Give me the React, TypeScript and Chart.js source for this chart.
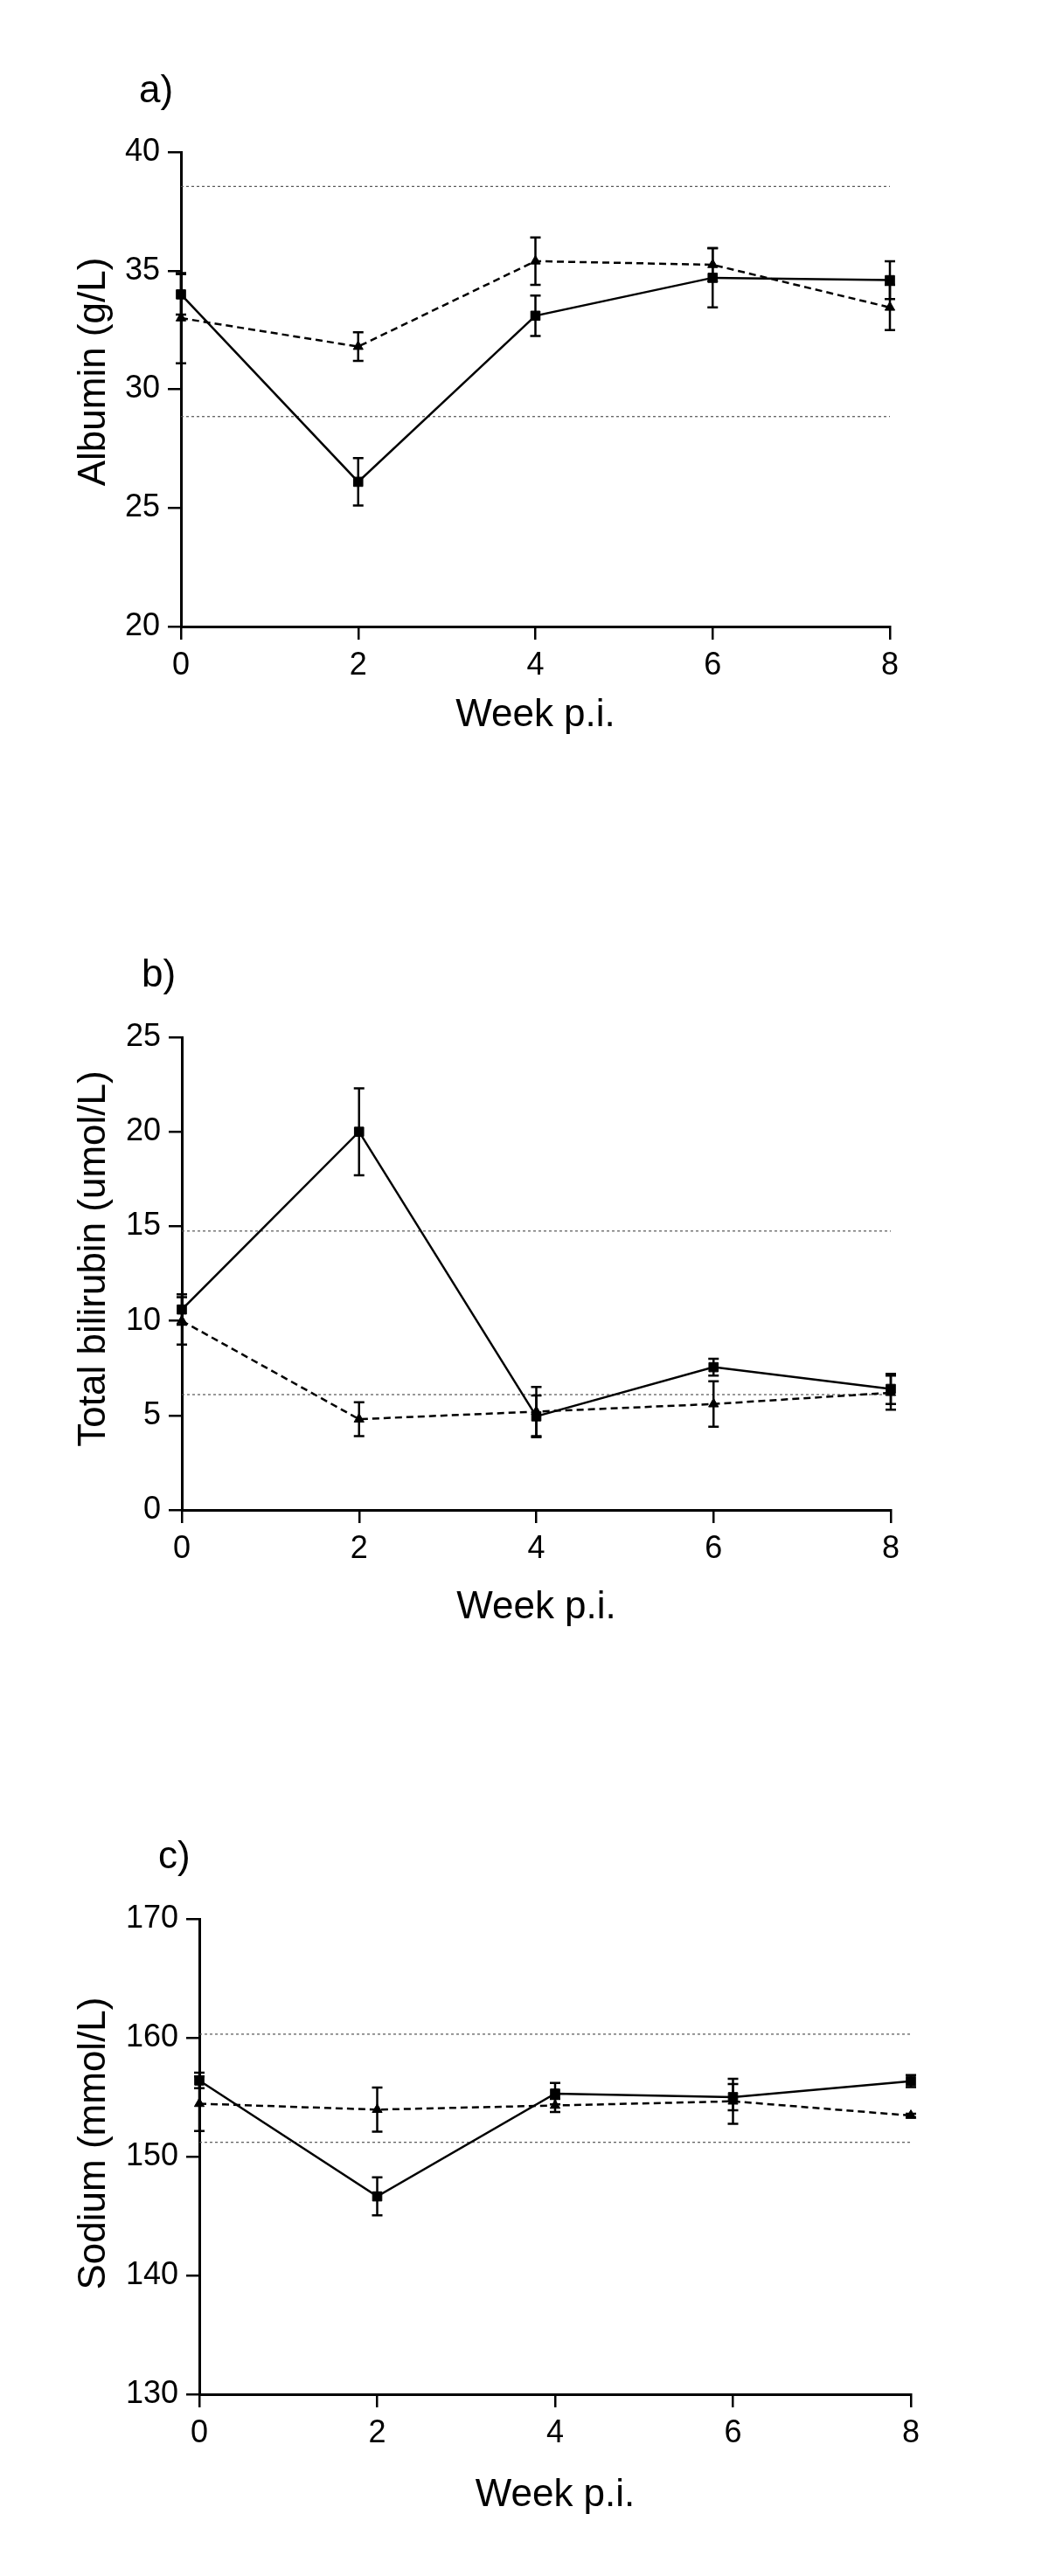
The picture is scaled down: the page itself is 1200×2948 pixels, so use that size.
import React, { useEffect, useRef } from 'react';
import { Chart, registerables } from 'chart.js';

Chart.register(...registerables);

// ---------- data ----------
const weeks = [0, 2, 4, 6, 8];
const xTicks = [0, 2, 4, 6, 8];

// a) Albumin (g/L)
const albuminSquare = [34.0, 26.1, 33.1, 34.7, 34.6];
const albuminSquareErr = [0.85, 1.0, 0.85, 1.25, 0.8];
const albuminTriangle = [33.0, 31.8, 35.4, 35.25, 33.45];
const albuminTriangleErr = [1.9, 0.6, 1.0, 0.7, 0.95];
const albuminRef = [38.55, 28.85];
const albuminTicks = [20, 25, 30, 35, 40];

// b) Total bilirubin (umol/L)
const bilirubinSquare = [10.6, 20.0, 4.95, 7.55, 6.4];
const bilirubinSquareErr = [0.8, 2.3, 1.1, 0.45, 0.8];
const bilirubinTriangle = [10.0, 4.8, 5.2, 5.6, 6.2];
const bilirubinTriangleErr = [1.25, 0.9, 1.3, 1.2, 0.9];
const bilirubinRef = [14.75, 6.1];
const bilirubinTicks = [0, 5, 10, 15, 20, 25];

// c) Sodium (mmol/L)
const sodiumSquare = [156.4, 146.65, 155.3, 155.0, 156.35];
const sodiumSquareErr = [0.65, 1.6, 0.9, 1.1, 0.5];
const sodiumTriangle = [154.45, 153.95, 154.3, 154.65, 153.45];
const sodiumTriangleErr = [2.3, 1.85, 0.55, 1.9, 0.15];
const sodiumRef = [160.3, 151.2];
const sodiumTicks = [130, 140, 150, 160, 170];

const FONT = "'Liberation Sans', Arial, Helvetica, sans-serif";

const errorBarPlugin = {
  id: 'errorBars',
  afterDatasetsDraw(chart: any) {
    const ctx = chart.ctx;
    const xs = chart.scales.x;
    const ys = chart.scales.y;
    ctx.save();
    chart.data.datasets.forEach((ds: any) => {
      if (!ds.errors) return;
      ctx.strokeStyle = '#000';
      ctx.lineWidth = 2.5;
      ds.data.forEach((p: any, i: number) => {
        const e = ds.errors[i];
        if (!e) return;
        const x = xs.getPixelForValue(p.x);
        const yt = ys.getPixelForValue(p.y + e);
        const yb = ys.getPixelForValue(p.y - e);
        ctx.beginPath();
        ctx.moveTo(x, yt);
        ctx.lineTo(x, yb);
        ctx.moveTo(x - 6, yt);
        ctx.lineTo(x + 6, yt);
        ctx.moveTo(x - 6, yb);
        ctx.lineTo(x + 6, yb);
        ctx.stroke();
      });
    });
    ctx.restore();
  },
};

const textPlugin = {
  id: 'panelText',
  afterDraw(chart: any, _args: any, opts: any) {
    const ctx = chart.ctx;
    const a = chart.chartArea;
    ctx.save();
    ctx.fillStyle = '#000';
    ctx.font = `44px ${FONT}`;
    // panel letter
    ctx.textAlign = 'left';
    ctx.textBaseline = 'alphabetic';
    ctx.fillText(opts.letter, a.left + opts.letterDx, a.top + opts.letterDy);
    // x title
    ctx.textAlign = 'center';
    ctx.fillText(opts.xTitle, (a.left + a.right) / 2, a.bottom + opts.xTitleDy);
    // y title
    ctx.translate(opts.yTitleX, (a.top + a.bottom) / 2 + opts.yTitleDy);
    ctx.rotate(-Math.PI / 2);
    ctx.fillText(opts.yTitle, 0, 0);
    ctx.restore();
  },
};

type PanelCfg = {
  top: number;
  height: number;
  left: number;
  right: number;
  areaTop: number;
  areaBottom: number;
  yMin: number;
  yMax: number;
  yTicks: number[];
  sq: number[];
  sqErr: number[];
  tri: number[];
  triErr: number[];
  refs: number[];
  letter: string;
  yTitle: string;
  letterDx: number;
  letterDy: number;
  xTitleDy: number;
  yTitleX: number;
  yTitleDy: number;
};

function Panel({ cfg }: { cfg: PanelCfg }) {
  const ref = useRef<HTMLCanvasElement | null>(null);
  useEffect(() => {
    const canvas = ref.current;
    if (!canvas) return;
    const toPts = (vals: number[]) => weeks.map((w, i) => ({ x: w, y: vals[i] }));
    const refSets = cfg.refs.map((v) => ({
      data: [
        { x: xTicks[0], y: v },
        { x: xTicks[xTicks.length - 1], y: v },
      ],
      borderColor: '#555',
      borderWidth: 1.2,
      borderDash: [3, 3],
      pointRadius: 0,
      tension: 0,
      clip: false,
    }));
    const chart = new Chart(canvas, {
      type: 'line',
      data: {
        datasets: [
          {
            data: toPts(cfg.sq),
            errors: cfg.sqErr,
            borderColor: '#000',
            borderWidth: 2.5,
            pointStyle: 'rect',
            pointRadius: 7.5,
            pointBackgroundColor: '#000',
            pointBorderColor: '#000',
            pointBorderWidth: 1,
            tension: 0,
            clip: false,
          } as any,
          {
            data: toPts(cfg.tri),
            errors: cfg.triErr,
            borderColor: '#000',
            borderWidth: 2.5,
            borderDash: [8, 5],
            pointStyle: 'triangle',
            pointRadius: 6.5,
            pointBackgroundColor: '#000',
            pointBorderColor: '#000',
            pointBorderWidth: 1,
            tension: 0,
            clip: false,
          } as any,
          ...(refSets as any[]),
        ],
      },
      options: {
        responsive: false,
        animation: false,
        devicePixelRatio: 1,
        events: [],
        layout: {
          padding: { left: 0, right: 1200 - cfg.right, top: cfg.areaTop, bottom: 0 },
        },
        plugins: {
          legend: { display: false },
          tooltip: { enabled: false },
          panelText: {
            letter: cfg.letter,
            xTitle: 'Week p.i.',
            yTitle: cfg.yTitle,
            letterDx: cfg.letterDx,
            letterDy: cfg.letterDy,
            xTitleDy: cfg.xTitleDy,
            yTitleX: cfg.yTitleX,
            yTitleDy: cfg.yTitleDy,
          },
        } as any,
        scales: {
          x: {
            type: 'linear',
            min: 0,
            max: 8,
            afterBuildTicks: (s: any) => {
              s.ticks = xTicks.map((v) => ({ value: v }));
            },
            afterFit: (s: any) => {
              s.height = cfg.height - cfg.areaBottom;
            },
            ticks: { font: { size: 36, family: FONT }, color: '#000', padding: 8, maxRotation: 0 },
            grid: {
              display: true,
              drawOnChartArea: false,
              drawTicks: true,
              tickLength: 15,
              color: '#000',
              lineWidth: 2.5,
            },
            border: { display: true, color: '#000', width: 3 },
          },
          y: {
            type: 'linear',
            min: cfg.yMin,
            max: cfg.yMax,
            afterBuildTicks: (s: any) => {
              s.ticks = cfg.yTicks.map((v) => ({ value: v }));
            },
            afterFit: (s: any) => {
              s.width = cfg.left;
            },
            ticks: { font: { size: 36, family: FONT }, color: '#000', padding: 9 },
            grid: {
              display: true,
              drawOnChartArea: false,
              drawTicks: true,
              tickLength: 15,
              color: '#000',
              lineWidth: 2.5,
            },
            border: { display: true, color: '#000', width: 3 },
          },
        } as any,
      },
      plugins: [errorBarPlugin, textPlugin],
    } as any);
    return () => chart.destroy();
  }, [cfg]);
  return (
    <canvas
      ref={ref}
      width={1200}
      height={cfg.height}
      style={{ position: 'absolute', left: 0, top: cfg.top, width: 1200, height: cfg.height, display: 'block' }}
    />
  );
}

const panels: PanelCfg[] = [
  {
    top: 0, height: 900, left: 207, right: 1018, areaTop: 174, areaBottom: 717,
    yMin: 20, yMax: 40, yTicks: albuminTicks,
    sq: albuminSquare, sqErr: albuminSquareErr, tri: albuminTriangle, triErr: albuminTriangleErr, refs: albuminRef,
    letter: 'a)', yTitle: 'Albumin (g/L)',
    letterDx: -48, letterDy: -57, xTitleDy: 114, yTitleX: 120, yTitleDy: -20,
  },
  {
    top: 900, height: 1000, left: 208, right: 1019, areaTop: 287, areaBottom: 828,
    yMin: 0, yMax: 25, yTicks: bilirubinTicks,
    sq: bilirubinSquare, sqErr: bilirubinSquareErr, tri: bilirubinTriangle, triErr: bilirubinTriangleErr, refs: bilirubinRef,
    letter: 'b)', yTitle: 'Total bilirubin (umol/L)',
    letterDx: -46, letterDy: -58, xTitleDy: 124, yTitleX: 120, yTitleDy: -17,
  },
  {
    top: 1900, height: 1048, left: 228, right: 1042, areaTop: 296, areaBottom: 840,
    yMin: 130, yMax: 170, yTicks: sodiumTicks,
    sq: sodiumSquare, sqErr: sodiumSquareErr, tri: sodiumTriangle, triErr: sodiumTriangleErr, refs: sodiumRef,
    letter: 'c)', yTitle: 'Sodium (mmol/L)',
    letterDx: -47, letterDy: -58, xTitleDy: 128, yTitleX: 120, yTitleDy: -15,
  },
];

export default function App() {
  return (
    <div style={{ position: 'absolute', left: 0, top: 0, width: 1200, height: 2948, background: '#fff', overflow: 'hidden' }}>
      {panels.map((p, i) => (
        <Panel key={i} cfg={p} />
      ))}
    </div>
  );
}
